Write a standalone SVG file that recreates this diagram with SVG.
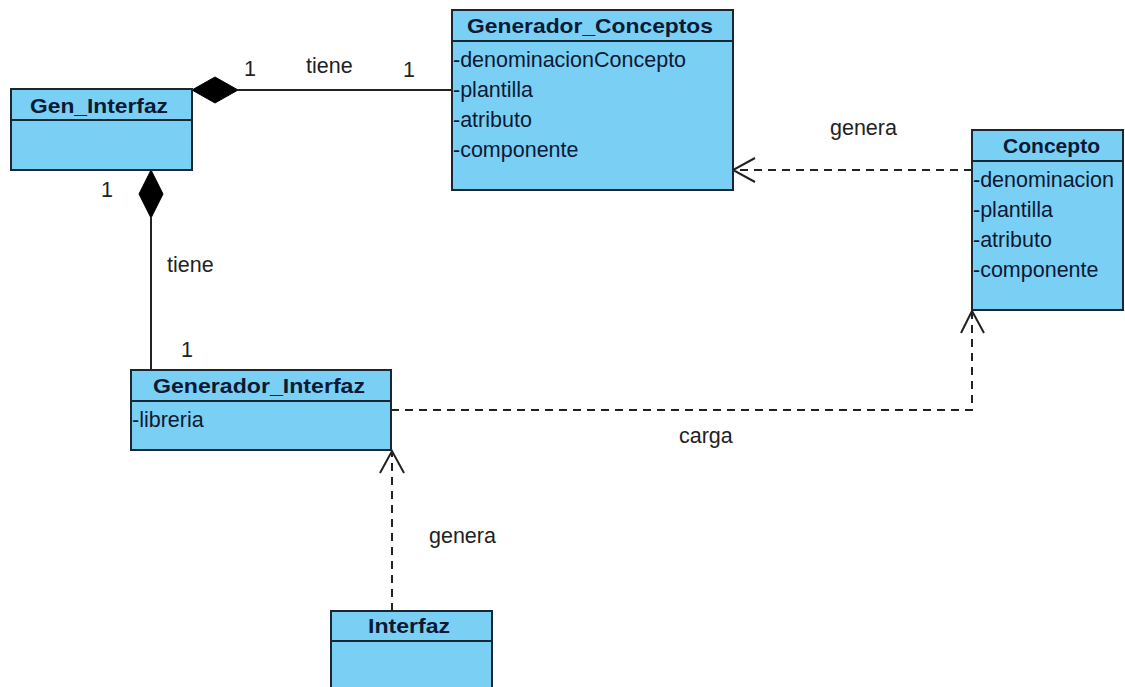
<svg xmlns="http://www.w3.org/2000/svg" width="1125" height="687" viewBox="0 0 1125 687">
  <style>
    .box { fill: #7acff5; stroke: #1b2633; stroke-width: 2; }
    .div { stroke: #1b2633; stroke-width: 2; }
    .title { font-family: "Liberation Sans", Arial, sans-serif; font-weight: bold; font-size: 21px; fill: #0c1a33; }
    .attr { font-family: "Liberation Sans", Arial, sans-serif; font-size: 21.5px; fill: #0c1a33; }
    .lbl { font-family: "Liberation Sans", Arial, sans-serif; font-size: 21.5px; fill: #222; }
    .assoc { fill: none; stroke: #222; stroke-width: 2; }
    .dep { fill: none; stroke: #222; stroke-width: 2; stroke-dasharray: 8 6; }
    .head { fill: none; stroke: #222; stroke-width: 2; }
    .diamond { fill: #000; stroke: #000; stroke-width: 1; }
  </style>

  <rect width="1125" height="687" fill="#ffffff"/>

  <!-- connectors -->
  <g id="connectors">
    <!-- Gen_Interfaz to Generador_Conceptos (composition) -->
    <line class="assoc" x1="238" y1="90" x2="452" y2="90"/>
    <polygon class="diamond" points="192,90 215,77 238,90 215,103"/>
    <!-- Gen_Interfaz to Generador_Interfaz (composition) -->
    <line class="assoc" x1="151" y1="218" x2="151" y2="370"/>
    <polygon class="diamond" points="151,170 163,194 151,218 139,194"/>
    <!-- Concepto depends on Generador_Conceptos -->
    <line class="dep" x1="972" y1="170" x2="735" y2="170"/>
    <polyline class="head" points="755,158 733,170 755,182"/>
    <!-- Generador_Interfaz depends on Concepto -->
    <polyline class="dep" points="391,410 972,410 972,312"/>
    <polyline class="head" points="961,333 972,311 984,333"/>
    <!-- Interfaz depends on Generador_Interfaz -->
    <line class="dep" x1="392" y1="611" x2="392" y2="452"/>
    <polyline class="head" points="380,473 392,451 404,473"/>

    <text class="lbl" x="244" y="76">1</text>
    <text class="lbl" x="306" y="73">tiene</text>
    <text class="lbl" x="403" y="77">1</text>
    <text class="lbl" x="101" y="197">1</text>
    <text class="lbl" x="167" y="272">tiene</text>
    <text class="lbl" x="181" y="357">1</text>
    <text class="lbl" x="830" y="135">genera</text>
    <text class="lbl" x="679" y="443">carga</text>
    <text class="lbl" x="429" y="543">genera</text>
  </g>

  <!-- Gen_Interfaz -->
  <g id="gen-interfaz">
    <rect class="box" x="11" y="89" width="181" height="81"/>
    <line class="div" x1="11" y1="120" x2="192" y2="120"/>
    <text class="title" x="30" y="113" textLength="138" lengthAdjust="spacingAndGlyphs">Gen_Interfaz</text>
  </g>

  <!-- Generador_Conceptos -->
  <g id="generador-conceptos">
    <rect class="box" x="452" y="10" width="281" height="180"/>
    <line class="div" x1="452" y1="41" x2="733" y2="41"/>
    <text class="title" x="467" y="33" textLength="246" lengthAdjust="spacingAndGlyphs">Generador_Conceptos</text>
    <text class="attr" x="453" y="67">-denominacionConcepto</text>
    <text class="attr" x="453" y="97">-plantilla</text>
    <text class="attr" x="453" y="127">-atributo</text>
    <text class="attr" x="453" y="157">-componente</text>
  </g>

  <!-- Concepto -->
  <g id="concepto">
    <rect class="box" x="972" y="130" width="151" height="180"/>
    <line class="div" x1="972" y1="161" x2="1123" y2="161"/>
    <text class="title" x="1003" y="153" textLength="97" lengthAdjust="spacingAndGlyphs">Concepto</text>
    <text class="attr" x="973" y="187">-denominacion</text>
    <text class="attr" x="973" y="217">-plantilla</text>
    <text class="attr" x="973" y="247">-atributo</text>
    <text class="attr" x="973" y="277">-componente</text>
  </g>

  <!-- Generador_Interfaz -->
  <g id="generador-interfaz">
    <rect class="box" x="131" y="370" width="260" height="80"/>
    <line class="div" x1="131" y1="401" x2="391" y2="401"/>
    <text class="title" x="153" y="393" textLength="212" lengthAdjust="spacingAndGlyphs">Generador_Interfaz</text>
    <text class="attr" x="132" y="427">-libreria</text>
  </g>

  <!-- Interfaz -->
  <g id="interfaz">
    <rect class="box" x="331" y="611" width="161" height="90"/>
    <line class="div" x1="331" y1="641" x2="492" y2="641"/>
    <text class="title" x="368" y="633" textLength="82" lengthAdjust="spacingAndGlyphs">Interfaz</text>
  </g>
</svg>
